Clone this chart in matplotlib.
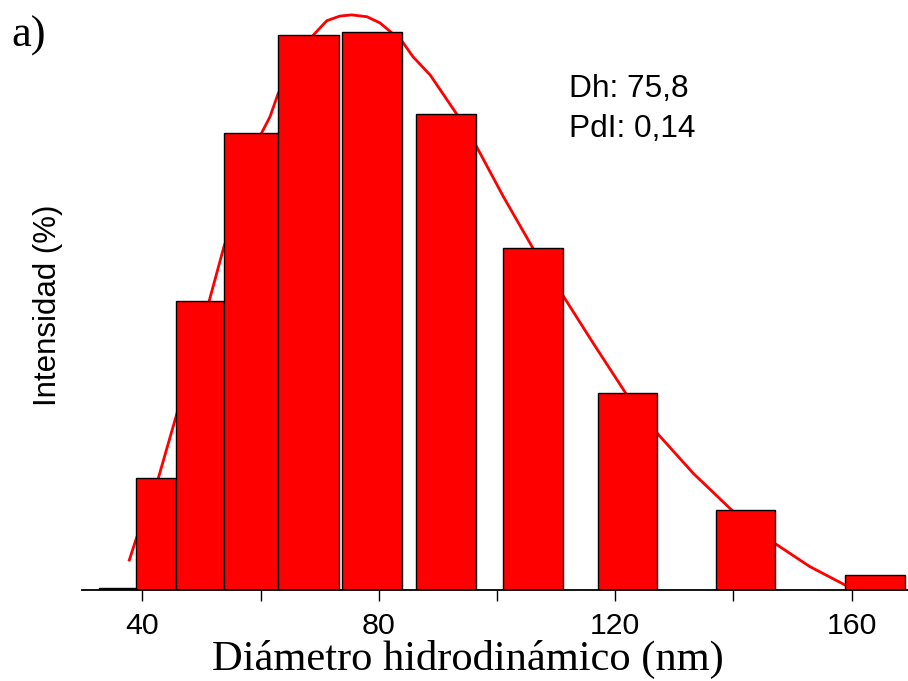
import matplotlib
matplotlib.use('Agg')
import matplotlib.pyplot as plt

# Distribución de tamaños (DLS): bordes de cada clase y % de intensidad
bin_left = [32.7, 38.9, 45.7, 53.8, 63.0, 73.7, 86.3, 101.0, 117.0, 137.0, 158.9]
bin_right = [38.9, 45.7, 53.8, 63.1, 73.3, 84.0, 96.4, 111.1, 127.1, 147.1, 169.0]
intensidad = [0.06, 3.62, 9.36, 14.82, 17.98, 18.07, 15.42, 11.07, 6.37, 2.59, 0.49]

# Curva de ajuste
curva_x = [37.8, 38.9, 42.7, 45.7, 51.3, 53.8, 60.2, 61.6, 63.0, 68.9, 71.2, 73.4,
           75.4, 78.0, 80.2, 82.0, 84.0, 85.8, 88.7, 93.2, 96.4, 101.1, 106.1, 111.1,
           116.3, 121.8, 127.1, 133.2, 139.7, 147.0, 152.9, 158.9]
curva_y = [0.97, 1.62, 3.62, 5.62, 9.36, 11.12, 14.82, 15.34, 16.10, 17.98, 18.45, 18.60,
           18.64, 18.58, 18.38, 18.09, 17.77, 17.28, 16.69, 15.42, 14.42, 12.74, 11.07, 9.56,
           7.99, 6.37, 5.08, 3.78, 2.59, 1.51, 0.76, 0.16]

x_ticks = [40, 80, 120, 160]
x_minor = [60, 100, 140]

sans = 'Liberation Sans'
serif = 'Liberation Serif'

fig = plt.figure(figsize=(9.08, 6.81), dpi=100)
ax = fig.add_axes([82 / 908, 91 / 681, 826 / 908, 585 / 681])

widths = [r - l for l, r in zip(bin_left, bin_right)]
ax.bar(bin_left, intensidad, width=widths, align='edge', color='#ff0000',
       edgecolor='black', linewidth=1.0, zorder=3)
ax.plot(curva_x, curva_y, color='#ff0000', linewidth=2.0, zorder=2)

ax.set_xlim(29.8, 169.52)
ax.set_ylim(0, 18.96)

for side in ('left', 'top', 'right'):
    ax.spines[side].set_visible(False)
ax.spines['bottom'].set_linewidth(1.3)
ax.spines['bottom'].set_zorder(4)

ax.set_yticks([])
ax.set_xticks(x_ticks)
ax.set_xticks(x_minor, minor=True)
ax.tick_params(axis='x', which='both', direction='out', length=8, width=1.0,
               color='black')
ax.tick_params(axis='x', which='major', labelsize=21.8, pad=8)
for lbl in ax.get_xticklabels():
    lbl.set_family(sans)

fig.text(48 / 908, 1 - 305 / 681, 'Intensidad (%)', rotation=90, ha='center',
         va='center', fontsize=22.5, family=sans)
fig.text(467.5 / 908, 1 - 670 / 681, 'Diámetro hidrodinámico (nm)', ha='center',
         va='baseline', fontsize=30.6, family=serif)
fig.text(11.7 / 908, 1 - 46.7 / 681, 'a)', ha='left', va='baseline',
         fontsize=32, family=serif)

fig.text(569.3 / 908, 1 - 96.7 / 681, 'Dh: 75,8', ha='left', va='baseline',
         fontsize=22.8, family=sans)
fig.text(569.3 / 908, 1 - 137.3 / 681, 'PdI: 0,14', ha='left', va='baseline',
         fontsize=22.8, family=sans)

fig.savefig('out.png', dpi=100)
